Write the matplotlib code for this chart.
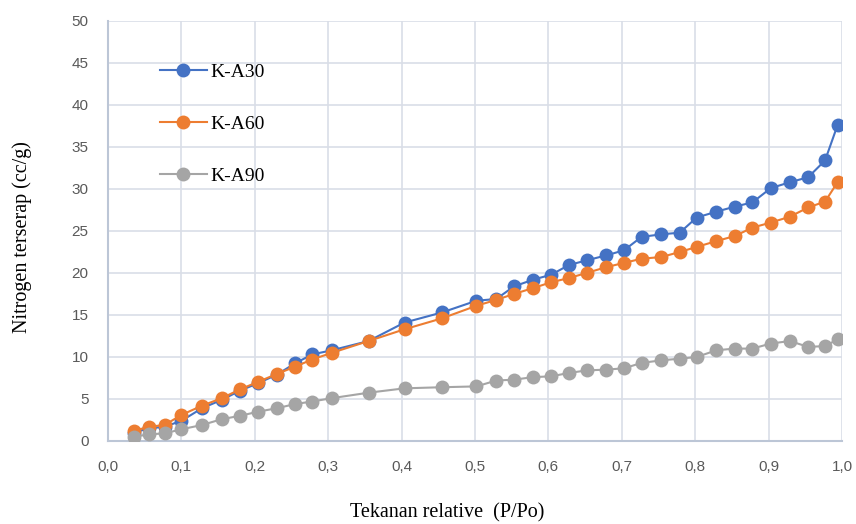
import matplotlib
matplotlib.use('Agg')
import matplotlib.pyplot as plt
from matplotlib.ticker import FuncFormatter

# relative pressure P/Po (shared by all three samples)
p_rel = [0.035, 0.056, 0.077, 0.100, 0.128, 0.155, 0.180, 0.205, 0.230, 0.255,
         0.278, 0.305, 0.355, 0.404, 0.455, 0.502, 0.529, 0.553, 0.579, 0.604,
         0.628, 0.652, 0.679, 0.703, 0.727, 0.754, 0.779, 0.802, 0.829, 0.854,
         0.878, 0.903, 0.929, 0.954, 0.977, 0.994]

# adsorbed nitrogen (cc/g)
ka30 = [1.0, 1.5, 1.7, 2.4, 3.9, 4.9, 6.0, 6.9, 7.9, 9.25,
        10.3, 10.8, 11.9, 14.1, 15.3, 16.7, 16.9, 18.4, 19.2, 19.8,
        20.95, 21.5, 22.1, 22.7, 24.3, 24.6, 24.8, 26.6, 27.3, 27.9,
        28.4, 30.1, 30.8, 31.4, 33.4, 37.6]
ka60 = [1.2, 1.7, 1.9, 3.1, 4.2, 5.1, 6.15, 7.06, 7.98, 8.85,
        9.7, 10.5, 11.9, 13.3, 14.6, 16.1, 16.8, 17.5, 18.2, 18.9,
        19.4, 20.0, 20.7, 21.2, 21.7, 21.9, 22.5, 23.1, 23.8, 24.4,
        25.4, 26.0, 26.7, 27.8, 28.5, 30.8]
ka90 = [0.5, 0.8, 0.9, 1.4, 1.9, 2.6, 3.0, 3.5, 3.9, 4.4,
        4.7, 5.1, 5.75, 6.27, 6.4, 6.5, 7.2, 7.3, 7.6, 7.7,
        8.1, 8.4, 8.5, 8.65, 9.3, 9.6, 9.8, 10.0, 10.8, 11.0,
        11.0, 11.6, 11.9, 11.2, 11.3, 12.1]

series = [('K-A30', ka30, '#4472C4'),
          ('K-A60', ka60, '#ED7D31'),
          ('K-A90', ka90, '#A5A5A5')]

fig = plt.figure(figsize=(8.56, 5.24), dpi=100)
ax = fig.add_axes([0.1262, 0.1584, 0.8574, 0.8016])

for name, vals, col in series:
    ax.plot(p_rel, vals, color=col, lw=1.5, marker='o', ms=10,
            markeredgewidth=0, label=name, zorder=3)

ax.set_xlim(0, 1.0)
ax.set_ylim(0, 50)
ax.set_xticks([i / 10 for i in range(11)])
ax.set_yticks(range(0, 51, 5))
ax.xaxis.set_major_formatter(FuncFormatter(lambda v, p: ('%.1f' % v).replace('.', ',')))
ax.grid(True, color='#d9dee7', lw=1.2, zorder=0)
ax.tick_params(length=0, labelsize=11, labelcolor='#595959')
ax.tick_params(axis='y', pad=14)
ax.tick_params(axis='x', pad=14)
for lab in ax.get_xticklabels() + ax.get_yticklabels():
    lab.set_fontfamily('Liberation Sans')

for s in ['top', 'right']:
    ax.spines[s].set_visible(False)
for s in ['left', 'bottom']:
    ax.spines[s].set_color('#bcc6d6')
    ax.spines[s].set_linewidth(1.5)

ax.set_xlabel('Tekanan relative  (P/Po)', fontfamily='Liberation Serif',
              fontsize=14.5)
ax.set_ylabel('Nitrogen terserap (cc/g)', fontfamily='Liberation Serif',
              fontsize=14.5)
# Excel-style placement of the axis titles
ax.xaxis.set_label_coords(0.462, -0.148)
ax.yaxis.set_label_coords(-0.103, 0.486)

leg = ax.legend(loc='upper left', bbox_to_anchor=(0.047, 0.94), frameon=False,
                prop={'family': 'Liberation Serif', 'size': 14},
                labelspacing=1.75, handlelength=2.4, handletextpad=0.2)

fig.savefig('out.png', dpi=100)
